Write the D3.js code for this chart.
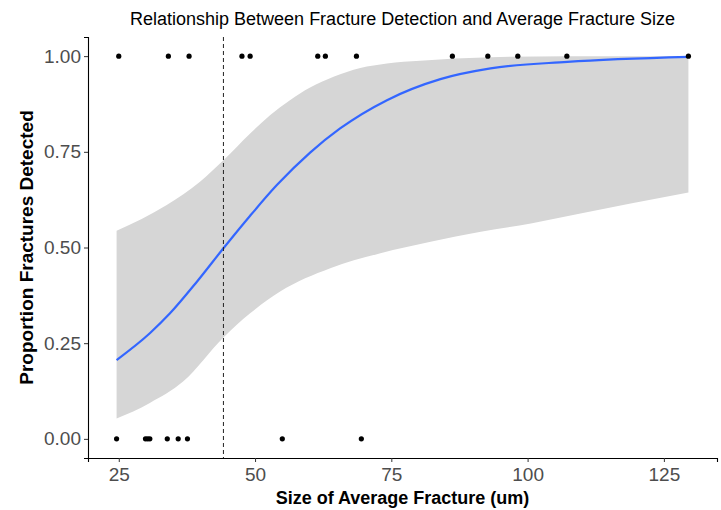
<!DOCTYPE html>
<html>
<head>
<meta charset="utf-8">
<script src="https://cdn.jsdelivr.net/npm/d3@7.9.0/dist/d3.min.js"></script>
<style>
  body { margin: 0; background: #fff; }
  svg { display: block; font-family: Arial, "Liberation Sans", sans-serif; }
</style>
</head>
<body>
<svg id="chart" width="721" height="510"></svg>
<script>
// observed fractures: x = avg fracture size (um), detected (1) or missed (0)
const detectedX = [25.0, 34.1, 37.9, 47.6, 49.1, 61.5, 62.9, 68.6, 86.2, 92.7, 98.2, 107.2, 129.5];
const missedX = [24.6, 29.9, 30.3, 30.7, 33.9, 35.9, 37.6, 55.0, 69.5];

// fitted logistic curve
const fitX = [24.6, 30.7, 34.4, 39.3, 44.2, 49.1, 54.0, 60.1, 65.6, 74.2, 84.0, 93.2, 107.3, 129.5];
const fitY = [0.206, 0.276, 0.328, 0.410, 0.498, 0.583, 0.663, 0.748, 0.811, 0.885, 0.940, 0.968, 0.985, 0.998];

// confidence band edges
const lowX = [24.6, 30.7, 36.8, 44.2, 49.1, 54.6, 63.8, 73.0, 82.2, 91.4, 100.6, 109.7, 118.9, 129.5];
const lowY = [0.053, 0.094, 0.150, 0.265, 0.328, 0.385, 0.446, 0.485, 0.515, 0.541, 0.563, 0.589, 0.615, 0.644];
const highX = [24.6, 33.8, 39.9, 44.2, 49.1, 52.8, 56.4, 60.1, 64.4, 69.3, 74.2, 80.3, 93.2, 107.3, 129.5];
const highY = [0.544, 0.611, 0.672, 0.728, 0.798, 0.846, 0.885, 0.918, 0.946, 0.969, 0.981, 0.988, 0.997, 1.0, 1.0];

const cutoff = 44.2; // 50% detection size
const xTicks = [25, 50, 75, 100, 125];
const yTicks = [0, 0.25, 0.5, 0.75, 1];

const svg = d3.select("#chart");
const margin = { top: 37, right: 4, bottom: 52, left: 88 };
const W = 721, H = 510;

const allX = detectedX.concat(missedX);
const [xmin, xmax] = d3.extent(allX);
const pad = (xmax - xmin) * 0.05;

const x = d3.scaleLinear()
  .domain([xmin - pad, xmax + pad])
  .range([margin.left, W - margin.right]);
const y = d3.scaleLinear()
  .domain([-0.05, 1.05])
  .range([H - margin.bottom, margin.top]);

// ribbon: upper edge left->right, then lower edge right->left
const edge = d3.line()
  .curve(d3.curveMonotoneX)
  .x(d => x(d[0]))
  .y(d => y(d[1]));
const upper = highX.map((d, i) => [d, highY[i]]);
const lowerRev = lowX.map((d, i) => [d, lowY[i]]).reverse();
const ribbonPath = edge(upper) + edge(lowerRev).replace(/^M/, "L") + "Z";

svg.append("path")
  .attr("fill", "#d6d6d6")
  .attr("d", ribbonPath);

// fitted line
svg.append("path")
  .datum(fitX.map((d, i) => [d, fitY[i]]))
  .attr("fill", "none")
  .attr("stroke", "#3366ff")
  .attr("stroke-width", 2.2)
  .attr("d", edge);

// dashed 50% line
svg.append("line")
  .attr("x1", x(cutoff)).attr("x2", x(cutoff))
  .attr("y1", margin.top).attr("y2", H - margin.bottom)
  .attr("stroke", "#222")
  .attr("stroke-width", 1)
  .attr("stroke-dasharray", "4,3");

// points
const pts = detectedX.map(v => ({ x: v, y: 1 })).concat(missedX.map(v => ({ x: v, y: 0 })));
svg.selectAll("circle.pt")
  .data(pts)
  .join("circle")
  .attr("class", "pt")
  .attr("cx", d => x(d.x))
  .attr("cy", d => y(d.y))
  .attr("r", 2.6)
  .attr("fill", "#000");

// axes
const xAxis = svg.append("g")
  .attr("transform", `translate(0,${H - margin.bottom})`)
  .call(d3.axisBottom(x).tickValues(xTicks).tickSize(4).tickPadding(6));
const yAxis = svg.append("g")
  .attr("transform", `translate(${margin.left},0)`)
  .call(d3.axisLeft(y).tickValues(yTicks).tickSize(4).tickPadding(3).tickFormat(d3.format(".2f")));

[xAxis, yAxis].forEach(g => {
  g.select(".domain").attr("stroke", "#000").attr("stroke-width", 1.1);
  g.selectAll(".tick line").attr("stroke", "#333");
  g.selectAll(".tick text")
    .attr("fill", "#4d4d4d")
    .style("font-size", "19px")
    .style("font-family", "Arial, 'Liberation Sans', sans-serif");
});

// titles
const midX = (margin.left + W - margin.right) / 2;
svg.append("text")
  .attr("x", midX).attr("y", 25)
  .attr("text-anchor", "middle")
  .style("font-size", "18px")
  .attr("fill", "#000")
  .text("Relationship Between Fracture Detection and Average Fracture Size");

svg.append("text")
  .attr("x", midX).attr("y", 504)
  .attr("text-anchor", "middle")
  .style("font-size", "18px")
  .style("font-weight", "bold")
  .text("Size of Average Fracture (um)");

svg.append("text")
  .attr("transform", `translate(33,${(margin.top + H - margin.bottom) / 2}) rotate(-90)`)
  .attr("text-anchor", "middle")
  .style("font-size", "19px")
  .style("font-weight", "bold")
  .text("Proportion Fractures Detected");
</script>
</body>
</html>
